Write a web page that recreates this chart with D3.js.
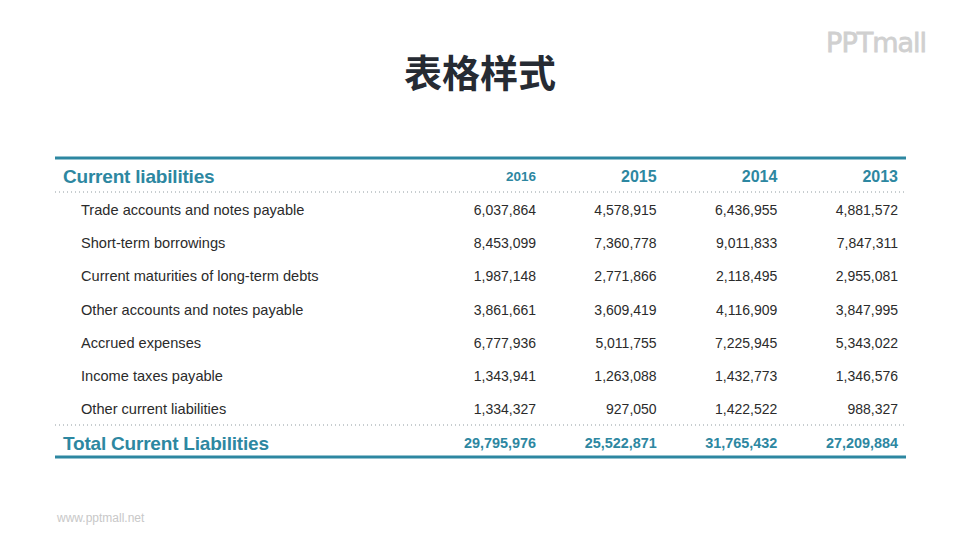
<!DOCTYPE html>
<html>
  <head>
    <meta charset="utf-8">
    <title>表格样式</title>
    <script src="https://cdn.jsdelivr.net/npm/d3@7/dist/d3.min.js"></script>
    <style>
      body { margin: 0; background: #fff; }
      text { font-family: "Liberation Sans", Arial, sans-serif; }
    </style>
  </head>
  <body>
    <svg width="960" height="540" id="mainsvg"></svg>
    <script>
      const years = ['2016', '2015', '2014', '2013'];
      const rowLabels = [
        'Trade accounts and notes payable',
        'Short-term borrowings',
        'Current maturities of long-term debts',
        'Other accounts and notes payable',
        'Accrued expenses',
        'Income taxes payable',
        'Other current liabilities'
      ];
      const v2016 = [6037864, 8453099, 1987148, 3861661, 6777936, 1343941, 1334327];
      const v2015 = [4578915, 7360778, 2771866, 3609419, 5011755, 1263088, 927050];
      const v2014 = [6436955, 9011833, 2118495, 4116909, 7225945, 1432773, 1422522];
      const v2013 = [4881572, 7847311, 2955081, 3847995, 5343022, 1346576, 988327];
      const totals = [29795976, 25522871, 31765432, 27209884];

      const cols = [v2016, v2015, v2014, v2013];
      const teal = '#2d87a1';
      const fmt = d3.format(',');

      const svg = d3.select('#mainsvg');

      // title
      svg.append('text')
        .attr('x', 480).attr('y', 70)
        .attr('text-anchor', 'middle').attr('dominant-baseline', 'central')
        .style('font-family', '"Noto Sans CJK SC", sans-serif')
        .style('font-weight', 'bold').style('font-size', '38px')
        .attr('fill', '#262b33')
        .text('表格样式');

      // logo + site
      svg.append('text')
        .attr('x', 926).attr('y', 42)
        .attr('text-anchor', 'end').attr('dominant-baseline', 'central')
        .style('font-family', '"DejaVu Sans", sans-serif')
        .style('font-size', '27px').style('letter-spacing', '-1px')
        .attr('fill', '#d0d0d0').attr('stroke', '#d0d0d0').attr('stroke-width', 0.8)
        .text('PPTmall');
      svg.append('text')
        .attr('x', 57).attr('y', 518)
        .attr('dominant-baseline', 'central')
        .style('font-size', '12px')
        .attr('fill', '#c8c8c8')
        .text('www.pptmall.net');

      const left = 55, right = 906;
      const xScale = d3.scalePoint().domain(years).range([536, 898]);
      const yScale = d3.scalePoint().domain(rowLabels).range([210, 409]);

      const g = svg.append('g');

      // rules
      g.append('line').attr('x1', left).attr('x2', right).attr('y1', 158).attr('y2', 158)
        .attr('stroke', teal).attr('stroke-width', 3);
      g.append('line').attr('x1', left).attr('x2', right).attr('y1', 457).attr('y2', 457)
        .attr('stroke', teal).attr('stroke-width', 3);
      [192, 425].forEach(y => {
        g.append('line').attr('x1', left).attr('x2', right).attr('y1', y).attr('y2', y)
          .attr('stroke', '#8f9ba0').attr('stroke-width', 1).attr('stroke-dasharray', '1,3');
      });

      // header
      g.append('text').attr('x', 63).attr('y', 176)
        .attr('dominant-baseline', 'central')
        .style('font-weight', 'bold').style('font-size', '19px').style('letter-spacing', '-0.2px')
        .attr('fill', teal).text('Current liabilities');
      g.selectAll('.yr').data(years).join('text')
        .attr('class', 'yr')
        .attr('x', d => xScale(d)).attr('y', 176)
        .attr('text-anchor', 'end').attr('dominant-baseline', 'central')
        .style('font-weight', 'bold')
        .style('font-size', (d, i) => i === 0 ? '13.5px' : '16px')
        .attr('fill', teal).text(d => d);

      // body rows
      g.selectAll('.lbl').data(rowLabels).join('text')
        .attr('class', 'lbl')
        .attr('x', 81).attr('y', d => yScale(d))
        .attr('dominant-baseline', 'central')
        .style('font-size', '14.6px').attr('fill', '#2b2b2b')
        .text(d => d);

      years.forEach((yr, ci) => {
        g.selectAll('.c' + ci).data(cols[ci]).join('text')
          .attr('class', 'c' + ci)
          .attr('x', xScale(yr)).attr('y', (d, i) => yScale(rowLabels[i]))
          .attr('text-anchor', 'end').attr('dominant-baseline', 'central')
          .style('font-size', '14px').attr('fill', '#2b2b2b')
          .text(d => fmt(d));
      });

      // totals
      g.append('text').attr('x', 63).attr('y', 443)
        .attr('dominant-baseline', 'central')
        .style('font-weight', 'bold').style('font-size', '19px').style('letter-spacing', '-0.2px')
        .attr('fill', teal).text('Total Current Liabilities');
      g.selectAll('.tot').data(totals).join('text')
        .attr('class', 'tot')
        .attr('x', (d, i) => xScale(years[i])).attr('y', 443)
        .attr('text-anchor', 'end').attr('dominant-baseline', 'central')
        .style('font-weight', 'bold').style('font-size', '14.4px')
        .attr('fill', teal).text(d => fmt(d));
    </script>
  </body>
</html>
